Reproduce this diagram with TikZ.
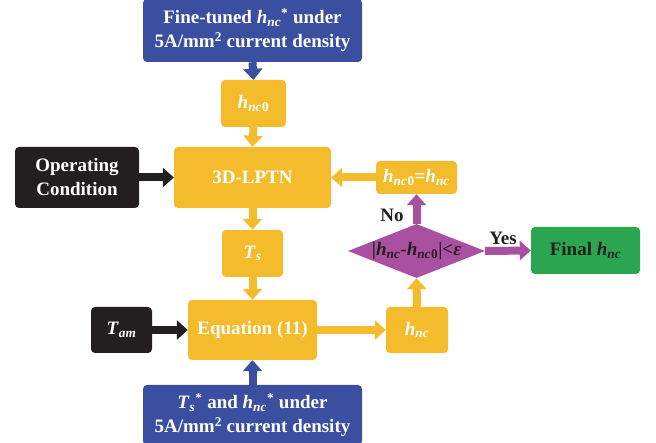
\documentclass[tikz,border=0pt]{standalone}
\usepackage{fontspec}
\setmainfont{Liberation Serif}
\usetikzlibrary{arrows.meta,shapes.geometric}
\definecolor{cblue}{RGB}{59,79,160}
\definecolor{cyel}{RGB}{244,188,44}
\definecolor{cblk}{RGB}{35,31,32}
\definecolor{cpur}{RGB}{170,80,160}
\definecolor{cgrn}{RGB}{42,166,80}
\newcommand\hv[1]{\textit{h}\textsubscript{\textit{#1}}}
\tikzset{
  box/.style={rectangle,rounded corners=4pt,inner sep=0pt,text=white,align=center,
    font=\fontsize{19}{24}\selectfont\bfseries},
  bluebox/.style={box,fill=cblue},
  yelbox/.style={box,fill=cyel},
  blkbox/.style={box,fill=cblk},
  grnbox/.style={box,fill=cgrn,text=cblk},
  blockarrow/.style={line width=8pt,-{Triangle[width=19pt,length=11pt]}},
  lbl/.style={font=\fontsize{19}{24}\selectfont\bfseries,text=cblk,inner sep=0pt}
}
\begin{document}
\begin{tikzpicture}[x=1pt,y=-1pt]
\useasboundingbox (0,0) rectangle (656,443);
% boxes
\node[bluebox,minimum width=219pt,minimum height=63pt] (b1) at (252.5,30.5)
  {Fine-tuned \hv{nc}\textsuperscript{*} under\\5A/mm\textsuperscript{2} current density};
\node[yelbox,minimum width=65pt,minimum height=47pt] (h0) at (253.5,103.5) {\hv{nc}\textsubscript{0}};
\node[yelbox,minimum width=157pt,minimum height=61pt] (lptn) at (252.5,177.5) {3D-LPTN};
\node[blkbox,minimum width=124pt,minimum height=61pt] (oc) at (77,177.5) {Operating\\Condition};
\node[yelbox,minimum width=61pt,minimum height=47pt] (ts) at (252.5,253.5) {\textit{T}\textsubscript{\textit{s}}};
\node[yelbox,minimum width=129pt,minimum height=60pt] (eq) at (252.5,330) {Equation (11)};
\node[blkbox,minimum width=61pt,minimum height=46pt] (tam) at (121.5,330) {\textit{T}\textsubscript{\textit{am}}};
\node[yelbox,minimum width=62pt,minimum height=46pt] (hnc) at (417,330) {\hv{nc}};
\node[bluebox,minimum width=219pt,minimum height=60pt] (b2) at (252.5,415)
  {\textit{T}\textsubscript{\textit{s}}\textsuperscript{*} and \hv{nc}\textsuperscript{*} under\\5A/mm\textsuperscript{2} current density};
\node[yelbox,minimum width=81pt,minimum height=33pt] (upd) at (416.5,177.5) {\hv{nc}\textsubscript{0}=\hv{nc}};
\node[diamond,fill=cpur,inner sep=0pt,minimum width=137pt,minimum height=54pt,aspect=2.5] (d) at (416.5,251) {};
\node[box,text=cblk] (dt) at (d.center) {|\hv{nc}-\hv{nc}\textsubscript{0}|<\textit{ε}};
\node[grnbox,minimum width=109pt,minimum height=47pt] (fin) at (585.5,250.5) {Final \hv{nc}};
% arrows
\draw[blockarrow,cblue] (b1.south) -- (h0.north);
\draw[blockarrow,cyel] (h0.south) -- (lptn.north);
\draw[blockarrow,cblk] (oc.east) -- (lptn.west);
\draw[blockarrow,cyel] (lptn.south) -- (ts.north);
\draw[blockarrow,cyel] (ts.south) -- (eq.north);
\draw[blockarrow,cblk] (tam.east) -- (eq.west);
\draw[blockarrow,cblue] (b2.north) -- (eq.south);
\draw[blockarrow,cyel] (eq.east) -- (hnc.west);
\draw[blockarrow,cyel] (hnc.north) -- (d.south);
\draw[blockarrow,cpur] (d.north) -- (upd.south);
\draw[blockarrow,cpur] (d.east) -- (fin.west);
\draw[blockarrow,cyel] (upd.west) -- (lptn.east);
% labels
\node[lbl] (no) at (392,215) {No};
\node[lbl] (yes) at (503,238) {Yes};
\end{tikzpicture}
\end{document}
